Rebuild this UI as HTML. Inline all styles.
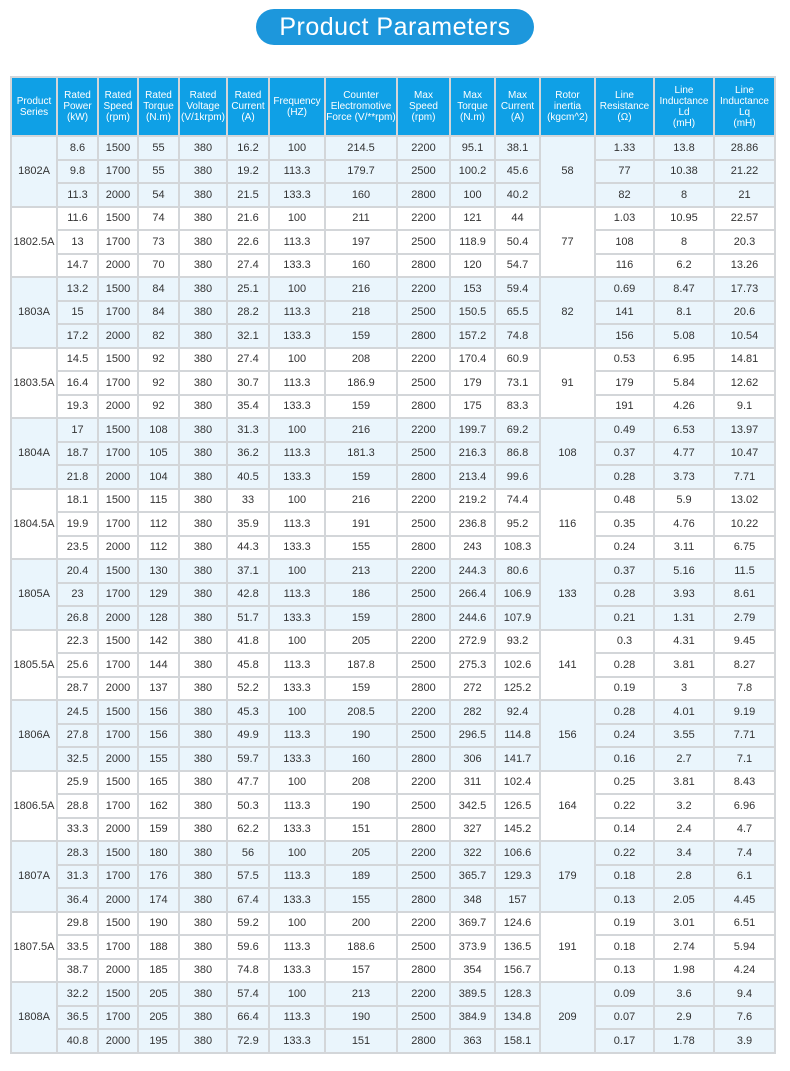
<!DOCTYPE html>
<html><head><meta charset="utf-8"><style>
body{margin:0;width:790px;height:1071px;background:#fff;font-family:"Liberation Sans","DejaVu Sans",sans-serif;overflow:hidden;position:relative}
.pill{position:absolute;left:256px;top:9px;width:278px;height:36px;background:#1d97dc;border-radius:18px;color:#fff;font-size:25px;text-align:center;line-height:36px;letter-spacing:0.5px}
table{position:absolute;left:10px;top:76px;border-collapse:collapse;table-layout:fixed;width:764px}
td,th{border:2px solid #d3d6d9;text-align:center;font-size:11px;color:#333;padding:0;white-space:nowrap}
th{background:#0fa0e6;color:#fff;font-weight:normal;font-size:10px;line-height:11px;height:57px}
tbody tr{height:23.5px}
tbody.b td{background:#eaf5fc}
tbody.w td{background:#fff}
</style></head><body>
<div class="pill">Product Parameters</div>
<table>
<colgroup><col style="width:46px"><col style="width:41px"><col style="width:40px"><col style="width:41px"><col style="width:48px"><col style="width:42px"><col style="width:56px"><col style="width:72px"><col style="width:53px"><col style="width:45px"><col style="width:45px"><col style="width:55px"><col style="width:59px"><col style="width:60px"><col style="width:61px"></colgroup>
<thead><tr><th>Product<br>Series</th><th>Rated<br>Power<br>(kW)</th><th>Rated<br>Speed<br>(rpm)</th><th>Rated<br>Torque<br>(N.m)</th><th>Rated<br>Voltage<br>(V/1krpm)</th><th>Rated<br>Current<br>(A)</th><th>Frequency<br>(HZ)</th><th>Counter<br>Electromotive<br>Force (V/**rpm)</th><th>Max<br>Speed<br>(rpm)</th><th>Max<br>Torque<br>(N.m)</th><th>Max<br>Current<br>(A)</th><th>Rotor<br>inertia<br>(kgcm^2)</th><th>Line<br>Resistance<br>(Ω)</th><th>Line<br>Inductance<br>Ld<br>(mH)</th><th>Line<br>Inductance<br>Lq<br>(mH)</th></tr></thead>
<tbody class="b">
<tr><td rowspan="3">1802A</td><td>8.6</td><td>1500</td><td>55</td><td>380</td><td>16.2</td><td>100</td><td>214.5</td><td>2200</td><td>95.1</td><td>38.1</td><td rowspan="3">58</td><td>1.33</td><td>13.8</td><td>28.86</td></tr>
<tr><td>9.8</td><td>1700</td><td>55</td><td>380</td><td>19.2</td><td>113.3</td><td>179.7</td><td>2500</td><td>100.2</td><td>45.6</td><td>77</td><td>10.38</td><td>21.22</td></tr>
<tr><td>11.3</td><td>2000</td><td>54</td><td>380</td><td>21.5</td><td>133.3</td><td>160</td><td>2800</td><td>100</td><td>40.2</td><td>82</td><td>8</td><td>21</td></tr></tbody>
<tbody class="w">
<tr><td rowspan="3">1802.5A</td><td>11.6</td><td>1500</td><td>74</td><td>380</td><td>21.6</td><td>100</td><td>211</td><td>2200</td><td>121</td><td>44</td><td rowspan="3">77</td><td>1.03</td><td>10.95</td><td>22.57</td></tr>
<tr><td>13</td><td>1700</td><td>73</td><td>380</td><td>22.6</td><td>113.3</td><td>197</td><td>2500</td><td>118.9</td><td>50.4</td><td>108</td><td>8</td><td>20.3</td></tr>
<tr><td>14.7</td><td>2000</td><td>70</td><td>380</td><td>27.4</td><td>133.3</td><td>160</td><td>2800</td><td>120</td><td>54.7</td><td>116</td><td>6.2</td><td>13.26</td></tr></tbody>
<tbody class="b">
<tr><td rowspan="3">1803A</td><td>13.2</td><td>1500</td><td>84</td><td>380</td><td>25.1</td><td>100</td><td>216</td><td>2200</td><td>153</td><td>59.4</td><td rowspan="3">82</td><td>0.69</td><td>8.47</td><td>17.73</td></tr>
<tr><td>15</td><td>1700</td><td>84</td><td>380</td><td>28.2</td><td>113.3</td><td>218</td><td>2500</td><td>150.5</td><td>65.5</td><td>141</td><td>8.1</td><td>20.6</td></tr>
<tr><td>17.2</td><td>2000</td><td>82</td><td>380</td><td>32.1</td><td>133.3</td><td>159</td><td>2800</td><td>157.2</td><td>74.8</td><td>156</td><td>5.08</td><td>10.54</td></tr></tbody>
<tbody class="w">
<tr><td rowspan="3">1803.5A</td><td>14.5</td><td>1500</td><td>92</td><td>380</td><td>27.4</td><td>100</td><td>208</td><td>2200</td><td>170.4</td><td>60.9</td><td rowspan="3">91</td><td>0.53</td><td>6.95</td><td>14.81</td></tr>
<tr><td>16.4</td><td>1700</td><td>92</td><td>380</td><td>30.7</td><td>113.3</td><td>186.9</td><td>2500</td><td>179</td><td>73.1</td><td>179</td><td>5.84</td><td>12.62</td></tr>
<tr><td>19.3</td><td>2000</td><td>92</td><td>380</td><td>35.4</td><td>133.3</td><td>159</td><td>2800</td><td>175</td><td>83.3</td><td>191</td><td>4.26</td><td>9.1</td></tr></tbody>
<tbody class="b">
<tr><td rowspan="3">1804A</td><td>17</td><td>1500</td><td>108</td><td>380</td><td>31.3</td><td>100</td><td>216</td><td>2200</td><td>199.7</td><td>69.2</td><td rowspan="3">108</td><td>0.49</td><td>6.53</td><td>13.97</td></tr>
<tr><td>18.7</td><td>1700</td><td>105</td><td>380</td><td>36.2</td><td>113.3</td><td>181.3</td><td>2500</td><td>216.3</td><td>86.8</td><td>0.37</td><td>4.77</td><td>10.47</td></tr>
<tr><td>21.8</td><td>2000</td><td>104</td><td>380</td><td>40.5</td><td>133.3</td><td>159</td><td>2800</td><td>213.4</td><td>99.6</td><td>0.28</td><td>3.73</td><td>7.71</td></tr></tbody>
<tbody class="w">
<tr><td rowspan="3">1804.5A</td><td>18.1</td><td>1500</td><td>115</td><td>380</td><td>33</td><td>100</td><td>216</td><td>2200</td><td>219.2</td><td>74.4</td><td rowspan="3">116</td><td>0.48</td><td>5.9</td><td>13.02</td></tr>
<tr><td>19.9</td><td>1700</td><td>112</td><td>380</td><td>35.9</td><td>113.3</td><td>191</td><td>2500</td><td>236.8</td><td>95.2</td><td>0.35</td><td>4.76</td><td>10.22</td></tr>
<tr><td>23.5</td><td>2000</td><td>112</td><td>380</td><td>44.3</td><td>133.3</td><td>155</td><td>2800</td><td>243</td><td>108.3</td><td>0.24</td><td>3.11</td><td>6.75</td></tr></tbody>
<tbody class="b">
<tr><td rowspan="3">1805A</td><td>20.4</td><td>1500</td><td>130</td><td>380</td><td>37.1</td><td>100</td><td>213</td><td>2200</td><td>244.3</td><td>80.6</td><td rowspan="3">133</td><td>0.37</td><td>5.16</td><td>11.5</td></tr>
<tr><td>23</td><td>1700</td><td>129</td><td>380</td><td>42.8</td><td>113.3</td><td>186</td><td>2500</td><td>266.4</td><td>106.9</td><td>0.28</td><td>3.93</td><td>8.61</td></tr>
<tr><td>26.8</td><td>2000</td><td>128</td><td>380</td><td>51.7</td><td>133.3</td><td>159</td><td>2800</td><td>244.6</td><td>107.9</td><td>0.21</td><td>1.31</td><td>2.79</td></tr></tbody>
<tbody class="w">
<tr><td rowspan="3">1805.5A</td><td>22.3</td><td>1500</td><td>142</td><td>380</td><td>41.8</td><td>100</td><td>205</td><td>2200</td><td>272.9</td><td>93.2</td><td rowspan="3">141</td><td>0.3</td><td>4.31</td><td>9.45</td></tr>
<tr><td>25.6</td><td>1700</td><td>144</td><td>380</td><td>45.8</td><td>113.3</td><td>187.8</td><td>2500</td><td>275.3</td><td>102.6</td><td>0.28</td><td>3.81</td><td>8.27</td></tr>
<tr><td>28.7</td><td>2000</td><td>137</td><td>380</td><td>52.2</td><td>133.3</td><td>159</td><td>2800</td><td>272</td><td>125.2</td><td>0.19</td><td>3</td><td>7.8</td></tr></tbody>
<tbody class="b">
<tr><td rowspan="3">1806A</td><td>24.5</td><td>1500</td><td>156</td><td>380</td><td>45.3</td><td>100</td><td>208.5</td><td>2200</td><td>282</td><td>92.4</td><td rowspan="3">156</td><td>0.28</td><td>4.01</td><td>9.19</td></tr>
<tr><td>27.8</td><td>1700</td><td>156</td><td>380</td><td>49.9</td><td>113.3</td><td>190</td><td>2500</td><td>296.5</td><td>114.8</td><td>0.24</td><td>3.55</td><td>7.71</td></tr>
<tr><td>32.5</td><td>2000</td><td>155</td><td>380</td><td>59.7</td><td>133.3</td><td>160</td><td>2800</td><td>306</td><td>141.7</td><td>0.16</td><td>2.7</td><td>7.1</td></tr></tbody>
<tbody class="w">
<tr><td rowspan="3">1806.5A</td><td>25.9</td><td>1500</td><td>165</td><td>380</td><td>47.7</td><td>100</td><td>208</td><td>2200</td><td>311</td><td>102.4</td><td rowspan="3">164</td><td>0.25</td><td>3.81</td><td>8.43</td></tr>
<tr><td>28.8</td><td>1700</td><td>162</td><td>380</td><td>50.3</td><td>113.3</td><td>190</td><td>2500</td><td>342.5</td><td>126.5</td><td>0.22</td><td>3.2</td><td>6.96</td></tr>
<tr><td>33.3</td><td>2000</td><td>159</td><td>380</td><td>62.2</td><td>133.3</td><td>151</td><td>2800</td><td>327</td><td>145.2</td><td>0.14</td><td>2.4</td><td>4.7</td></tr></tbody>
<tbody class="b">
<tr><td rowspan="3">1807A</td><td>28.3</td><td>1500</td><td>180</td><td>380</td><td>56</td><td>100</td><td>205</td><td>2200</td><td>322</td><td>106.6</td><td rowspan="3">179</td><td>0.22</td><td>3.4</td><td>7.4</td></tr>
<tr><td>31.3</td><td>1700</td><td>176</td><td>380</td><td>57.5</td><td>113.3</td><td>189</td><td>2500</td><td>365.7</td><td>129.3</td><td>0.18</td><td>2.8</td><td>6.1</td></tr>
<tr><td>36.4</td><td>2000</td><td>174</td><td>380</td><td>67.4</td><td>133.3</td><td>155</td><td>2800</td><td>348</td><td>157</td><td>0.13</td><td>2.05</td><td>4.45</td></tr></tbody>
<tbody class="w">
<tr><td rowspan="3">1807.5A</td><td>29.8</td><td>1500</td><td>190</td><td>380</td><td>59.2</td><td>100</td><td>200</td><td>2200</td><td>369.7</td><td>124.6</td><td rowspan="3">191</td><td>0.19</td><td>3.01</td><td>6.51</td></tr>
<tr><td>33.5</td><td>1700</td><td>188</td><td>380</td><td>59.6</td><td>113.3</td><td>188.6</td><td>2500</td><td>373.9</td><td>136.5</td><td>0.18</td><td>2.74</td><td>5.94</td></tr>
<tr><td>38.7</td><td>2000</td><td>185</td><td>380</td><td>74.8</td><td>133.3</td><td>157</td><td>2800</td><td>354</td><td>156.7</td><td>0.13</td><td>1.98</td><td>4.24</td></tr></tbody>
<tbody class="b">
<tr><td rowspan="3">1808A</td><td>32.2</td><td>1500</td><td>205</td><td>380</td><td>57.4</td><td>100</td><td>213</td><td>2200</td><td>389.5</td><td>128.3</td><td rowspan="3">209</td><td>0.09</td><td>3.6</td><td>9.4</td></tr>
<tr><td>36.5</td><td>1700</td><td>205</td><td>380</td><td>66.4</td><td>113.3</td><td>190</td><td>2500</td><td>384.9</td><td>134.8</td><td>0.07</td><td>2.9</td><td>7.6</td></tr>
<tr><td>40.8</td><td>2000</td><td>195</td><td>380</td><td>72.9</td><td>133.3</td><td>151</td><td>2800</td><td>363</td><td>158.1</td><td>0.17</td><td>1.78</td><td>3.9</td></tr></tbody>
</table>
</body></html>
